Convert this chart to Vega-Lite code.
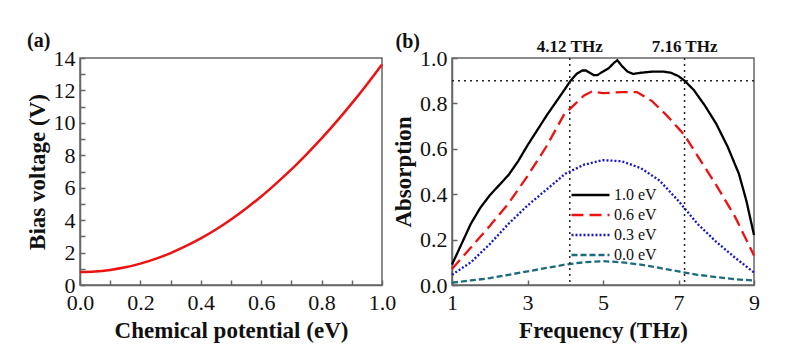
{
  "$schema": "https://vega.github.io/schema/vega-lite/v6.json",
  "background": "white",
  "padding": {"left": 25, "top": 30, "right": 5, "bottom": 5},
  "spacing": 70,
  "bounds": "flush",
  "config": {
    "font": "Liberation Serif",
    "view": {"stroke": "#666", "strokeWidth": 1.5},
    "axis": {
      "domainColor": "#666", "domainWidth": 1.5, "tickColor": "#666", "tickWidth": 1.5,
      "grid": false, "labelFont": "Liberation Serif", "labelFontSize": 22, "labelColor": "#111",
      "titleFont": "Liberation Serif", "titleFontSize": 23, "titleFontWeight": "bold", "titleColor": "#111",
      "labelOverlap": false, "labelFlush": false, "tickSize": -5, "labelPadding": 10
    },
    "axisX": {"labelPadding": 12, "titlePadding": 6}
  },
  "datasets": {
    "bias": [
      {"mu": 0.0, "V": 0.8}, {"mu": 0.05, "V": 0.83}, {"mu": 0.1, "V": 0.93}, {"mu": 0.15, "V": 1.09},
      {"mu": 0.2, "V": 1.32}, {"mu": 0.25, "V": 1.61}, {"mu": 0.3, "V": 1.97}, {"mu": 0.35, "V": 2.39},
      {"mu": 0.4, "V": 2.87}, {"mu": 0.45, "V": 3.42}, {"mu": 0.5, "V": 4.04}, {"mu": 0.55, "V": 4.72},
      {"mu": 0.6, "V": 5.46}, {"mu": 0.65, "V": 6.27}, {"mu": 0.7, "V": 7.13}, {"mu": 0.75, "V": 8.06},
      {"mu": 0.8, "V": 9.04}, {"mu": 0.85, "V": 10.09}, {"mu": 0.9, "V": 11.2}, {"mu": 0.95, "V": 12.37},
      {"mu": 1.0, "V": 13.6}
    ],
    "absorb": [
      {"f": 1.0, "A": 0.09, "s": "1.0 eV"}, {"f": 1.25, "A": 0.18, "s": "1.0 eV"}, {"f": 1.5, "A": 0.27, "s": "1.0 eV"},
      {"f": 1.75, "A": 0.34, "s": "1.0 eV"}, {"f": 2.0, "A": 0.395, "s": "1.0 eV"}, {"f": 2.25, "A": 0.44, "s": "1.0 eV"},
      {"f": 2.5, "A": 0.485, "s": "1.0 eV"}, {"f": 2.75, "A": 0.545, "s": "1.0 eV"}, {"f": 3.0, "A": 0.615, "s": "1.0 eV"},
      {"f": 3.25, "A": 0.68, "s": "1.0 eV"}, {"f": 3.5, "A": 0.745, "s": "1.0 eV"}, {"f": 3.75, "A": 0.805, "s": "1.0 eV"},
      {"f": 4.0, "A": 0.865, "s": "1.0 eV"}, {"f": 4.12, "A": 0.895, "s": "1.0 eV"}, {"f": 4.3, "A": 0.93, "s": "1.0 eV"},
      {"f": 4.45, "A": 0.945, "s": "1.0 eV"}, {"f": 4.55, "A": 0.945, "s": "1.0 eV"}, {"f": 4.65, "A": 0.935, "s": "1.0 eV"},
      {"f": 4.75, "A": 0.925, "s": "1.0 eV"}, {"f": 4.85, "A": 0.925, "s": "1.0 eV"}, {"f": 5.0, "A": 0.94, "s": "1.0 eV"},
      {"f": 5.15, "A": 0.955, "s": "1.0 eV"}, {"f": 5.3, "A": 0.98, "s": "1.0 eV"}, {"f": 5.38, "A": 0.99, "s": "1.0 eV"},
      {"f": 5.5, "A": 0.965, "s": "1.0 eV"}, {"f": 5.65, "A": 0.94, "s": "1.0 eV"}, {"f": 5.8, "A": 0.93, "s": "1.0 eV"},
      {"f": 6.0, "A": 0.935, "s": "1.0 eV"}, {"f": 6.3, "A": 0.94, "s": "1.0 eV"}, {"f": 6.6, "A": 0.94, "s": "1.0 eV"},
      {"f": 6.8, "A": 0.935, "s": "1.0 eV"}, {"f": 7.0, "A": 0.92, "s": "1.0 eV"}, {"f": 7.16, "A": 0.9, "s": "1.0 eV"},
      {"f": 7.4, "A": 0.86, "s": "1.0 eV"}, {"f": 7.7, "A": 0.79, "s": "1.0 eV"}, {"f": 8.0, "A": 0.71, "s": "1.0 eV"},
      {"f": 8.3, "A": 0.61, "s": "1.0 eV"}, {"f": 8.6, "A": 0.49, "s": "1.0 eV"}, {"f": 8.8, "A": 0.37, "s": "1.0 eV"},
      {"f": 9.0, "A": 0.22, "s": "1.0 eV"},
      {"f": 1.0, "A": 0.07, "s": "0.6 eV"}, {"f": 1.5, "A": 0.165, "s": "0.6 eV"}, {"f": 2.0, "A": 0.26, "s": "0.6 eV"},
      {"f": 2.5, "A": 0.36, "s": "0.6 eV"}, {"f": 3.0, "A": 0.48, "s": "0.6 eV"}, {"f": 3.5, "A": 0.61, "s": "0.6 eV"},
      {"f": 4.0, "A": 0.76, "s": "0.6 eV"}, {"f": 4.12, "A": 0.775, "s": "0.6 eV"}, {"f": 4.5, "A": 0.835, "s": "0.6 eV"},
      {"f": 4.7, "A": 0.852, "s": "0.6 eV"}, {"f": 5.0, "A": 0.845, "s": "0.6 eV"}, {"f": 5.5, "A": 0.85, "s": "0.6 eV"},
      {"f": 5.9, "A": 0.85, "s": "0.6 eV"}, {"f": 6.3, "A": 0.81, "s": "0.6 eV"}, {"f": 6.7, "A": 0.745, "s": "0.6 eV"},
      {"f": 7.0, "A": 0.69, "s": "0.6 eV"}, {"f": 7.16, "A": 0.66, "s": "0.6 eV"}, {"f": 7.5, "A": 0.57, "s": "0.6 eV"},
      {"f": 8.0, "A": 0.44, "s": "0.6 eV"}, {"f": 8.5, "A": 0.3, "s": "0.6 eV"}, {"f": 9.0, "A": 0.13, "s": "0.6 eV"},
      {"f": 1.0, "A": 0.045, "s": "0.3 eV"}, {"f": 1.5, "A": 0.1, "s": "0.3 eV"}, {"f": 2.0, "A": 0.18, "s": "0.3 eV"},
      {"f": 2.5, "A": 0.27, "s": "0.3 eV"}, {"f": 3.0, "A": 0.35, "s": "0.3 eV"}, {"f": 3.5, "A": 0.42, "s": "0.3 eV"},
      {"f": 4.0, "A": 0.49, "s": "0.3 eV"}, {"f": 4.5, "A": 0.53, "s": "0.3 eV"}, {"f": 5.0, "A": 0.55, "s": "0.3 eV"},
      {"f": 5.5, "A": 0.545, "s": "0.3 eV"}, {"f": 6.0, "A": 0.515, "s": "0.3 eV"}, {"f": 6.5, "A": 0.46, "s": "0.3 eV"},
      {"f": 7.0, "A": 0.37, "s": "0.3 eV"}, {"f": 7.5, "A": 0.27, "s": "0.3 eV"}, {"f": 8.0, "A": 0.19, "s": "0.3 eV"},
      {"f": 8.5, "A": 0.12, "s": "0.3 eV"}, {"f": 9.0, "A": 0.055, "s": "0.3 eV"},
      {"f": 1.0, "A": 0.01, "s": "0.0 eV"}, {"f": 1.5, "A": 0.02, "s": "0.0 eV"}, {"f": 2.0, "A": 0.03, "s": "0.0 eV"},
      {"f": 2.5, "A": 0.045, "s": "0.0 eV"}, {"f": 3.0, "A": 0.06, "s": "0.0 eV"}, {"f": 3.5, "A": 0.075, "s": "0.0 eV"},
      {"f": 4.0, "A": 0.09, "s": "0.0 eV"}, {"f": 4.5, "A": 0.1, "s": "0.0 eV"}, {"f": 5.0, "A": 0.105, "s": "0.0 eV"},
      {"f": 5.5, "A": 0.1, "s": "0.0 eV"}, {"f": 6.0, "A": 0.09, "s": "0.0 eV"}, {"f": 6.5, "A": 0.075, "s": "0.0 eV"},
      {"f": 7.0, "A": 0.06, "s": "0.0 eV"}, {"f": 7.5, "A": 0.045, "s": "0.0 eV"}, {"f": 8.0, "A": 0.035, "s": "0.0 eV"},
      {"f": 8.5, "A": 0.025, "s": "0.0 eV"}, {"f": 9.0, "A": 0.02, "s": "0.0 eV"}
    ],
    "marks": [{"f": 4.12, "label": "4.12 THz"}, {"f": 7.16, "label": "7.16 THz"}]
  },
  "hconcat": [
    {
      "width": 302, "height": 227,
      "title": {"text": "(a)", "anchor": "start", "frame": "bounds", "dx": 1, "offset": -4, "fontSize": 20, "font": "Liberation Serif", "fontWeight": "bold", "color": "#111"},
      "data": {"name": "bias"},
      "mark": {"type": "line", "color": "#ee1111", "strokeWidth": 2.5, "interpolate": "monotone"},
      "encoding": {
        "x": {"field": "mu", "type": "quantitative", "scale": {"domain": [0, 1], "nice": false},
          "axis": {"title": "Chemical potential (eV)", "values": [0, 0.1, 0.2, 0.3, 0.4, 0.5, 0.6, 0.7, 0.8, 0.9, 1.0],
            "labelExpr": "round(datum.value*10) % 2 == 0 ? format(datum.value, '.1f') : ''"}},
        "y": {"field": "V", "type": "quantitative", "scale": {"domain": [0, 14], "nice": false},
          "axis": {"title": "Bias voltage (V)", "values": [0, 1, 2, 3, 4, 5, 6, 7, 8, 9, 10, 11, 12, 13, 14],
            "labelExpr": "datum.value % 2 == 0 ? datum.label : ''", "titlePadding": 4}}
      }
    },
    {
      "width": 302, "height": 227,
      "title": {"text": "(b)", "anchor": "start", "frame": "bounds", "dx": 3, "offset": -14, "fontSize": 20, "font": "Liberation Serif", "fontWeight": "bold", "color": "#111"},
      "layer": [
        {
          "data": {"name": "absorb"},
          "mark": {"type": "line", "strokeWidth": 2.3},
          "encoding": {
            "x": {"field": "f", "type": "quantitative", "scale": {"domain": [1, 9], "nice": false},
              "axis": {"title": "Frequency (THz)", "values": [1, 3, 5, 7, 9]}},
            "y": {"field": "A", "type": "quantitative", "scale": {"domain": [0, 1], "nice": false},
              "axis": {"title": "Absorption", "values": [0, 0.2, 0.4, 0.6, 0.8, 1.0], "format": ".1f", "titlePadding": 4}},
            "color": {"field": "s", "type": "nominal",
              "scale": {"domain": ["1.0 eV", "0.6 eV", "0.3 eV", "0.0 eV"], "range": ["#000000", "#ee1111", "#1515cc", "#1c6b7c"]},
              "legend": {"title": null, "orient": "none", "legendX": 490, "legendY": 128, "symbolType": "stroke",
                "symbolSize": 1444, "symbolStrokeWidth": 2.5, "labelFontSize": 16, "labelFont": "Liberation Serif",
                "labelColor": "#111", "clipHeight": 18, "rowPadding": 2, "labelOffset": 3, "padding": 0}},
            "strokeDash": {"field": "s", "type": "nominal",
              "scale": {"domain": ["1.0 eV", "0.6 eV", "0.3 eV", "0.0 eV"], "range": [[1, 0], [12, 6], [2, 2], [6, 3]]},
              "legend": {"title": null, "orient": "none", "legendX": 490, "legendY": 128, "symbolType": "stroke",
                "symbolSize": 1444, "symbolStrokeWidth": 2.5, "labelFontSize": 16, "labelFont": "Liberation Serif",
                "labelColor": "#111", "clipHeight": 18, "rowPadding": 2, "labelOffset": 3, "padding": 0}}
          }
        },
        {
          "data": {"name": "marks"},
          "mark": {"type": "rule", "color": "#222", "strokeWidth": 1.5, "strokeDash": [2, 4]},
          "encoding": {"x": {"field": "f", "type": "quantitative"}}
        },
        {
          "data": {"values": [{"A": 0.9}]},
          "mark": {"type": "rule", "color": "#222", "strokeWidth": 1.5, "strokeDash": [2, 4]},
          "encoding": {"y": {"field": "A", "type": "quantitative"}}
        },
        {
          "data": {"name": "marks"},
          "mark": {"type": "text", "font": "Liberation Serif", "fontSize": 17, "fontWeight": "bold", "color": "#111", "baseline": "middle", "dy": -11},
          "encoding": {"x": {"field": "f", "type": "quantitative"}, "y": {"datum": 1}, "text": {"field": "label"}}
        }
      ]
    }
  ]
}
